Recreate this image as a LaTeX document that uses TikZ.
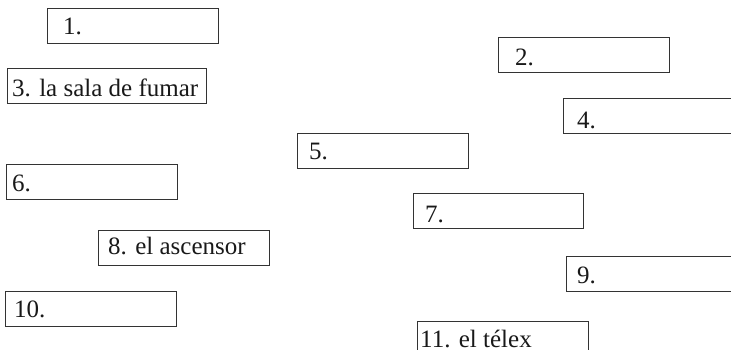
\documentclass[tikz,border=0pt]{standalone}
\usepackage{fontspec}
\setmainfont{Liberation Serif}
\begin{document}
\begin{tikzpicture}[x=1pt,y=-1pt,
  box/.style={draw=black!80,line width=1.1pt,inner sep=0pt,anchor=north west,minimum height=35pt},
  lbl/.style={anchor=base west,inner sep=0pt,font=\fontsize{25}{28}\selectfont,text=black!90}]
\useasboundingbox (0,0) rectangle (731,350);
\clip (0,0) rectangle (731,350);
\node[box,minimum width=171pt] (b1) at (47,8) {};
\node[lbl] (t1) at (63,35) {1.};
\node[box,minimum width=171pt] (b2) at (498,37) {};
\node[lbl] (t2) at (515,66) {2.};
\node[box,minimum width=199pt] (b3) at (7,68) {};
\node[lbl] (t3) at (12,97) {3. la sala de fumar};
\node[box,minimum width=171pt] (b4) at (563,98) {};
\node[lbl] (t4) at (577,129) {4.};
\node[box,minimum width=171pt] (b5) at (297,133) {};
\node[lbl] (t5) at (309,160) {5.};
\node[box,minimum width=171pt] (b6) at (6,164) {};
\node[lbl] (t6) at (12,191) {6.};
\node[box,minimum width=170pt] (b7) at (413,193) {};
\node[lbl] (t7) at (425,222) {7.};
\node[box,minimum width=171pt] (b8) at (98,230) {};
\node[lbl] (t8) at (108,254) {8. el ascensor};
\node[box,minimum width=171pt] (b9) at (566,256) {};
\node[lbl] (t9) at (577,283) {9.};
\node[box,minimum width=171pt] (b10) at (5,291) {};
\node[lbl] (t10) at (14,317) {10.};
\node[box,minimum width=171pt] (b11) at (417,321) {};
\node[lbl] (t11) at (420,347) {11. el télex};
\end{tikzpicture}
\end{document}
